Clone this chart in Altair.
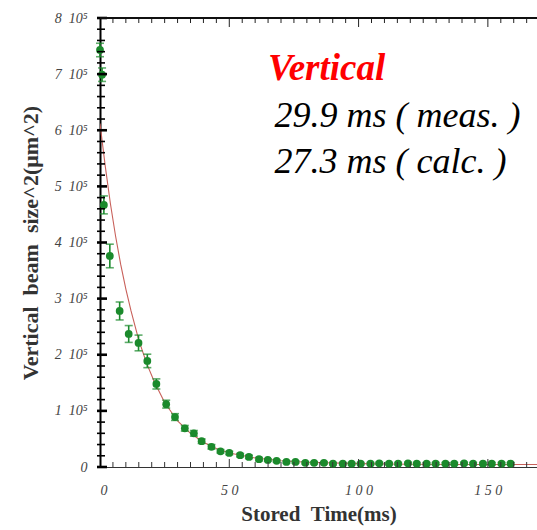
import altair as alt
import pandas as pd

# ---- data ----
# stored time in ms, vertical beam size^2 in units of 1e5 um^2, error bar half-width
time_ms = [0.0, 0.8, 1.5, 3.8, 7.6, 11.1, 14.9, 18.3, 21.8, 25.6,
           29.0, 32.8, 36.3, 39.3, 43.1, 46.6, 50.0, 54.2, 57.6, 61.5,
           64.9, 68.3, 72.1, 75.6, 79.4, 82.8, 86.6, 90.1, 93.9, 97.3,
           100.8, 104.6, 108.0, 111.8, 115.3, 119.1, 122.5, 126.3, 129.8, 133.6,
           137.0, 140.8, 144.3, 148.1, 151.5, 155.3, 158.8]
size2 = [7.43, 6.99, 4.67, 3.76, 2.78, 2.37, 2.21, 1.89, 1.48, 1.12,
         0.89, 0.69, 0.60, 0.46, 0.36, 0.28, 0.25, 0.21, 0.18, 0.14,
         0.125, 0.11, 0.09, 0.09, 0.075, 0.075, 0.075, 0.06, 0.06, 0.06,
         0.06, 0.06, 0.065, 0.06, 0.06, 0.065, 0.06, 0.06, 0.06, 0.06,
         0.06, 0.065, 0.06, 0.06, 0.06, 0.06, 0.06]
size2_err = [0.12, 0.12, 0.16, 0.21, 0.16, 0.15, 0.14, 0.12, 0.09, 0.07,
             0.06, 0.05, 0.05, 0.04, 0.04, 0.03, 0.03, 0.03, 0.03, 0.03,
             0.02, 0.02, 0.02, 0.02, 0.02, 0.02, 0.02, 0.02, 0.02, 0.02,
             0.02, 0.02, 0.02, 0.02, 0.02, 0.02, 0.02, 0.02, 0.02, 0.02,
             0.02, 0.02, 0.02, 0.02, 0.02, 0.02, 0.02]

# calculated curve (red)
fit_t = [0, 2, 4, 6, 8, 10, 12, 15, 18, 21, 25, 30, 35, 40, 45, 50, 60, 70, 80, 100, 120, 140, 170]
fit_y = [6.12, 5.37, 4.70, 4.12, 3.61, 3.17, 2.78, 2.26, 1.85, 1.52, 1.15, 0.82, 0.60, 0.44,
         0.33, 0.25, 0.16, 0.11, 0.085, 0.06, 0.05, 0.045, 0.045]

# axis ticks
x_minor_ticks = [t for t in range(5, 170, 5) if t % 50 != 0]
x_major_ticks = [0, 50, 100, 150]
y_minor_ticks = [round(i * 0.2, 1) for i in range(0, 41) if i % 5 != 0]
y_major_ticks = [0, 1, 2, 3, 4, 5, 6, 7, 8]

# annotation
title_text = ["Vertical"]
title_t = [65.0]
title_y = [6.90]
note_text = ["29.9 ms ( meas. )", "27.3 ms ( calc. )"]
note_t = [67.5, 67.5]
note_y = [6.05, 5.24]

# ---- tables ----
pts = pd.DataFrame({"t": time_ms, "v": size2, "e": size2_err})
pts["lo"] = pts["v"] - pts["e"]
pts["hi"] = pts["v"] + pts["e"]
fit = pd.DataFrame({"t": fit_t, "v": fit_y})
yt_minor = pd.DataFrame({"v": y_minor_ticks})
yt_major = pd.DataFrame({"v": y_major_ticks})
xt_minor = pd.DataFrame({"t": x_minor_ticks})
xt_major = pd.DataFrame({"t": x_major_ticks[1:]})
ann_title = pd.DataFrame({"t": title_t, "v": title_y, "txt": title_text})
ann_note = pd.DataFrame({"t": note_t, "v": note_y, "txt": note_text})

SERIF = "Liberation Serif"
GREEN = "#1b8a2c"
NB = "\u00a0"
W, H = 437, 449

xs = alt.Scale(domain=[0, 169], nice=False, zero=False)
ys = alt.Scale(domain=[0, 8], nice=False, zero=False)

x_axis = alt.Axis(values=x_major_ticks, ticks=False, grid=False,
                  labelExpr="join(split(datum.label, ''), '\u00a0')",
                  labelFont=SERIF, labelFontStyle="italic", labelFontSize=14,
                  labelColor="#444444", labelPadding=16,
                  domainColor="#333333", domainWidth=1,
                  title="Stored" + NB + NB + "Time(ms)", titleFont=SERIF, titleFontWeight="bold",
                  titleFontSize=21, titleColor="#333333", titlePadding=6)
y_axis = alt.Axis(values=y_major_ticks, ticks=False, grid=False,
                  labelExpr="datum.value == 0 ? '0' : datum.value + '\u00a0\u00a010\u2075'",
                  labelFont=SERIF, labelFontStyle="italic", labelFontSize=14,
                  labelColor="#444444", labelPadding=13,
                  domainColor="#000000", domainWidth=2,
                  title="Vertical" + NB + NB + "beam" + NB + NB + "size^2(\u03bcm^2)", titleFont=SERIF,
                  titleFontWeight="bold", titleFontSize=22, titleColor="#333333",
                  titlePadding=12)


def X(field):
    return alt.X(field, type="quantitative", scale=xs, axis=x_axis)


def Y(field):
    return alt.Y(field, type="quantitative", scale=ys, axis=y_axis)


base_line = alt.Chart(fit).mark_line(color="#c8605a", strokeWidth=1.1, clip=True).encode(
    x=X("t"), y=Y("v"),
)
err_rule = alt.Chart(pts).mark_rule(color=GREEN, strokeWidth=1.6).encode(
    x=X("t"), y=Y("lo"), y2="hi:Q",
)
cap_lo = alt.Chart(pts).mark_tick(color=GREEN, orient="horizontal", size=8, thickness=1.6).encode(
    x=X("t"), y=Y("lo"),
)
cap_hi = alt.Chart(pts).mark_tick(color=GREEN, orient="horizontal", size=8, thickness=1.6).encode(
    x=X("t"), y=Y("hi"),
)
dots = alt.Chart(pts).mark_circle(color=GREEN, size=60, opacity=1).encode(
    x=X("t"), y=Y("v"),
)

# inward / crossing ticks
y_minor_marks = alt.Chart(yt_minor).mark_rule(color="#000000", strokeWidth=1.6).encode(
    y=Y("v"), x=alt.value(-3), x2=alt.value(5),
)
y_major_marks = alt.Chart(yt_major).mark_rule(color="#000000", strokeWidth=2.6).encode(
    y=Y("v"), x=alt.value(-3), x2=alt.value(7),
)
x_bottom_minor = alt.Chart(xt_minor).mark_rule(color="#333333", strokeWidth=1).encode(
    x=X("t"), y=alt.value(H), y2=alt.value(H - 5),
)
x_bottom_major = alt.Chart(xt_major).mark_rule(color="#333333", strokeWidth=1).encode(
    x=X("t"), y=alt.value(H), y2=alt.value(H - 8),
)
x_top_minor = alt.Chart(xt_minor).mark_rule(color="#222222", strokeWidth=1).encode(
    x=X("t"), y=alt.value(0), y2=alt.value(5),
)
x_top_major = alt.Chart(xt_major).mark_rule(color="#222222", strokeWidth=1).encode(
    x=X("t"), y=alt.value(0), y2=alt.value(9),
)
top_frame = alt.Chart(yt_major).mark_rule(color="#111111", strokeWidth=1.5).encode(
    y=alt.datum(8, scale=ys, axis=y_axis),
)

title_mark = alt.Chart(ann_title).mark_text(font=SERIF, fontStyle="italic", fontWeight="bold",
                                            fontSize=37, color="#ff0000",
                                            align="left", baseline="alphabetic").encode(
    x=X("t"), y=Y("v"), text="txt:N",
)
note_mark = alt.Chart(ann_note).mark_text(font=SERIF, fontStyle="italic", fontSize=36,
                                          color="#000000", align="left",
                                          baseline="alphabetic").encode(
    x=X("t"), y=Y("v"), text="txt:N",
)

chart = alt.layer(
    base_line, err_rule, cap_lo, cap_hi, dots,
    y_minor_marks, y_major_marks, x_bottom_minor, x_bottom_major,
    x_top_minor, x_top_major, top_frame, title_mark, note_mark,
).properties(
    width=W, height=H,
    autosize=alt.AutoSizeParams(type="none"),
    padding={"left": 100, "top": 18, "right": 0, "bottom": 63},
    background="#ffffff",
).configure_view(stroke=None)

chart.save("out.html", embed_options={"renderer": "svg", "actions": False})
